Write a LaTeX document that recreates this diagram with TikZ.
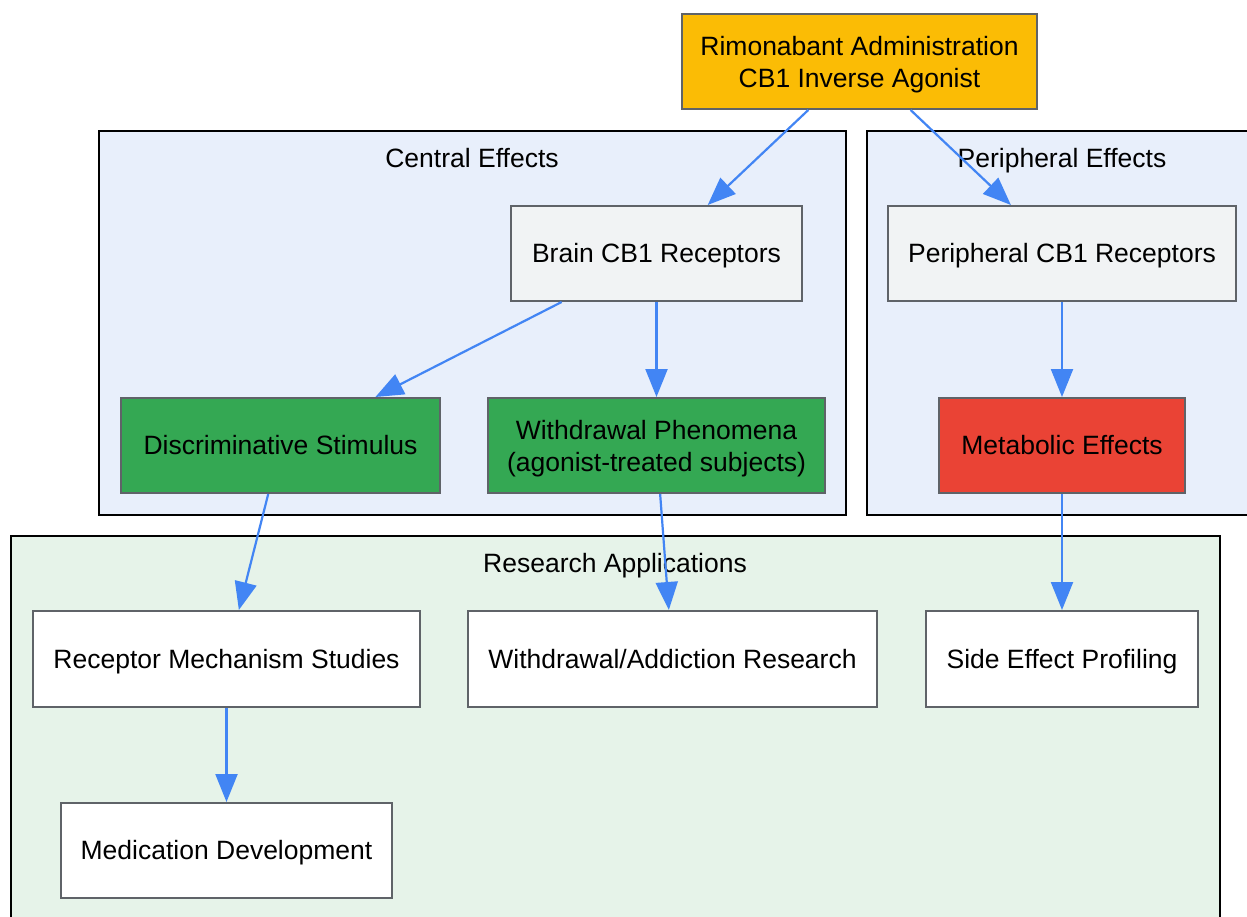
\documentclass[tikz,border=0pt]{standalone}
\usepackage{fontspec}
\setmainfont{Liberation Sans}
\usetikzlibrary{arrows.meta}
\definecolor{edgeblue}{HTML}{4285F4}
\definecolor{nodeborder}{HTML}{5F6368}
\definecolor{bluefill}{HTML}{E8EFFB}
\definecolor{greenfill}{HTML}{E6F3E9}
\definecolor{gyellow}{HTML}{FBBC05}
\definecolor{ggreen}{HTML}{34A853}
\definecolor{gred}{HTML}{EA4335}
\definecolor{ggray}{HTML}{F1F3F4}
\newcommand{\myTopStrut}{\rule{0pt}{0.905em}}
\newcommand{\myTallStrut}{\rule{0pt}{26pt}}
\newcommand{\myBotStrut}{\rule[-0.212em]{0pt}{0.212em}}
\begin{document}
\begin{tikzpicture}[x=1pt,y=-1pt,
  every node/.style={font=\fontsize{26.5}{32}\selectfont},
  strutted/.style={execute at begin node=\myTopStrut, execute at end node=\myBotStrut},
  cluster/.style={draw=black, line width=2pt},
  box/.style={draw=nodeborder, line width=2pt, rectangle, inner sep=0pt, align=center, text=black, strutted},
  edge/.style={draw=edgeblue, line width=2.2pt, -{Triangle[length=28pt,width=22pt]}}]
\useasboundingbox (0,0) rectangle (1247,917);
\fill[white] (0,0) rectangle (1247,917);
% clusters
\filldraw[cluster, fill=bluefill] (99,131) rectangle (846,515);
\filldraw[cluster, fill=bluefill] (867,131) rectangle (1262,515);
\filldraw[cluster, fill=greenfill] (11,536) rectangle (1220,935);
\node[strutted] (tcentral) at (472,158) {Central Effects};
\node[strutted] (tperiph) at (1062,158) {Peripheral Effects};
\node[strutted] (tresearch) at (615,563) {Research Applications};
% nodes
\node[box, fill=gyellow, minimum width=355pt, minimum height=95pt] (rim) at (859.5,61.5) {\myTallStrut Rimonabant Administration\\CB1 Inverse Agonist};
\node[box, fill=ggray, minimum width=291pt, minimum height=95pt] (brain) at (656.5,253.5) {Brain CB1 Receptors};
\node[box, fill=ggray, minimum width=348pt, minimum height=95pt] (pcb) at (1062,253.5) {Peripheral CB1 Receptors};
\node[box, fill=ggreen, minimum width=319pt, minimum height=95pt] (disc) at (280.5,445.5) {Discriminative Stimulus};
\node[box, fill=ggreen, minimum width=337pt, minimum height=95pt] (wph) at (656.5,445.5) {\myTallStrut Withdrawal Phenomena\\(agonist-treated subjects)};
\node[box, fill=gred, minimum width=246pt, minimum height=95pt] (meta) at (1062,445.5) {Metabolic Effects};
\node[box, fill=white, minimum width=387pt, minimum height=96pt] (rms) at (226.5,659) {Receptor Mechanism Studies};
\node[box, fill=white, minimum width=409pt, minimum height=96pt] (war) at (672.5,659) {Withdrawal/Addiction Research};
\node[box, fill=white, minimum width=272pt, minimum height=96pt] (sep) at (1062,659) {Side Effect Profiling};
\node[box, fill=white, minimum width=331pt, minimum height=95pt] (med) at (226.5,850.5) {Medication Development};
% edges
\draw[edge] (rim) -- (brain);
\draw[edge] (rim) -- (pcb);
\draw[edge] (brain) -- (disc);
\draw[edge] (brain) -- (wph);
\draw[edge] (pcb) -- (meta);
\draw[edge] (disc) -- (rms);
\draw[edge] (wph) -- (war);
\draw[edge] (meta) -- (sep);
\draw[edge] (rms) -- (med);
\end{tikzpicture}
\end{document}
